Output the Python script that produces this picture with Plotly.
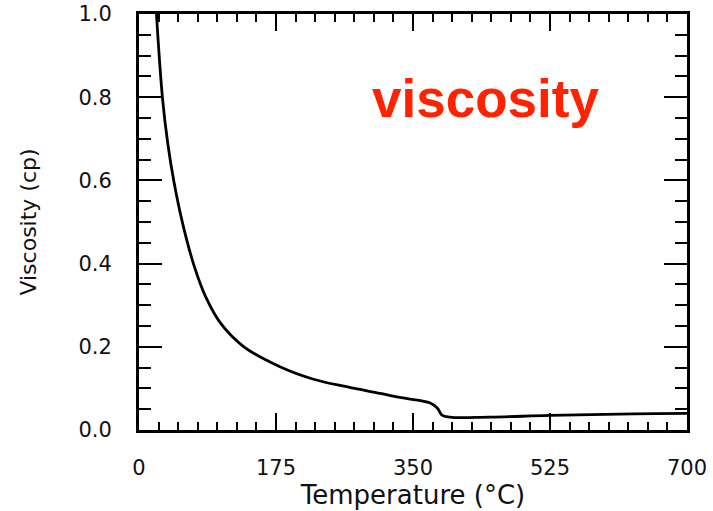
import plotly.graph_objects as go

# Data
temperature_c = [22.3, 30.1, 36.8, 44.7, 55.8, 70, 85.2, 104.9, 134, 180, 223, 265, 308, 337, 372, 381, 387, 397, 448, 525, 631, 700]
viscosity_cp = [1.0, 0.796, 0.688, 0.596, 0.496, 0.397, 0.320, 0.255, 0.200, 0.152, 0.122, 0.104, 0.088, 0.077, 0.065, 0.053, 0.036, 0.031, 0.031, 0.035, 0.039, 0.040]

x_ticks = [0, 175, 350, 525, 700]
y_ticks = [0.0, 0.2, 0.4, 0.6, 0.8, 1.0]
y_tick_text = ["0.0", "0.2", "0.4", "0.6", "0.8", "1.0"]

fig = go.Figure()
fig.add_trace(go.Scatter(
    x=temperature_c, y=viscosity_cp, mode="lines",
    line=dict(color="black", width=2.8, shape="spline", smoothing=1.1),
    showlegend=False, hoverinfo="x+y",
))

tick_font = dict(family="DejaVu Sans", size=21, color="#111")

fig.update_xaxes(
    range=[0, 700], tickvals=x_ticks, ticktext=[str(v) for v in x_ticks],
    ticks="inside", ticklen=17, tickwidth=2, tickcolor="black",
    minor=dict(ticks="inside", dtick=25, tick0=0, ticklen=8, tickwidth=2, tickcolor="black", showgrid=False),
    showline=True, linecolor="black", linewidth=3, mirror="allticks",
    showgrid=False, zeroline=False, tickfont=tick_font, ticklabelstandoff=17,
    title=dict(text="Temperature (°C)", font=dict(family="DejaVu Sans", size=26, color="#111"), standoff=5),
)
fig.update_yaxes(
    range=[0, 1.0], tickvals=y_ticks, ticktext=y_tick_text,
    ticks="inside", ticklen=23, tickwidth=2, tickcolor="black",
    minor=dict(ticks="inside", dtick=0.05, tick0=0, ticklen=12, tickwidth=2, tickcolor="black", showgrid=False),
    showline=True, linecolor="black", linewidth=3, mirror="allticks",
    showgrid=False, zeroline=False, tickfont=tick_font, ticklabelstandoff=20,
    title=dict(text="Viscosity (cp)", font=dict(family="DejaVu Sans", size=22, color="#111"), standoff=36),
)

fig.add_annotation(
    x=0.632, y=0.797, xref="paper", yref="paper",
    text="<b>viscosity</b>", showarrow=False,
    font=dict(family="Liberation Sans", size=53, color="#ff2200"),
    xanchor="center", yanchor="middle",
)

fig.update_layout(
    width=713, height=511,
    margin=dict(l=139, r=26, t=14, b=81, autoexpand=False),
    paper_bgcolor="white", plot_bgcolor="white",
)

fig.write_html("out.html")
